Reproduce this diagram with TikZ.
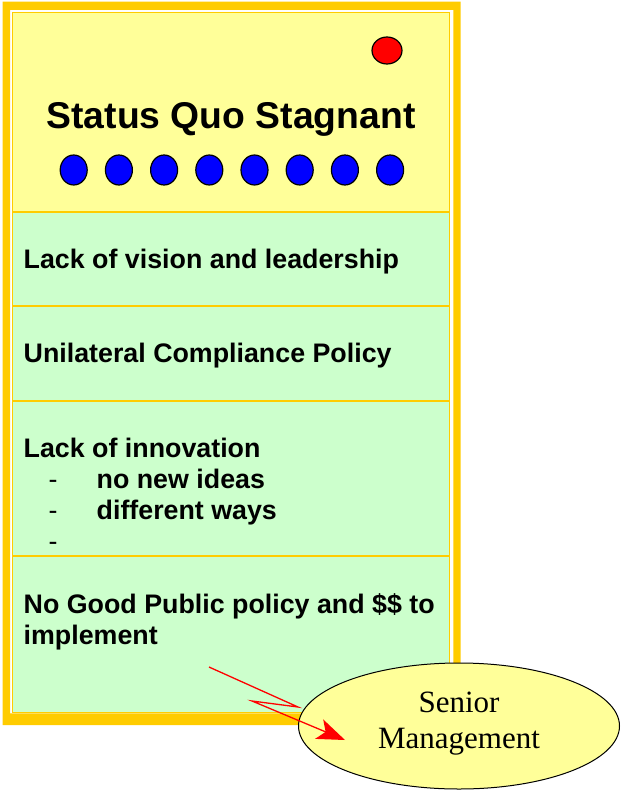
\documentclass[tikz,border=0pt]{standalone}
\usepackage{fontspec}
\setmainfont{Liberation Serif}
\newfontfamily\arialfont{Liberation Sans}
\usetikzlibrary{arrows.meta,shapes.geometric}

\definecolor{gold}{HTML}{FFCC00}
\definecolor{paleyellow}{HTML}{FFFF99}
\definecolor{palegreen}{HTML}{CCFFCC}

\tikzset{
  panel/.style={
    draw=gold, line width=1.5pt, anchor=north west,
    minimum width=437pt, inner sep=0pt, outer sep=0pt,
  },
  panel text/.style={
    anchor=north west, inner sep=0pt, align=left,
    font=\arialfont\bfseries\fontsize{26.8}{31}\selectfont,
  },
  dot/.style={
    ellipse, draw=black, line width=1.2pt,
    minimum width=27pt, minimum height=30pt, inner sep=0pt,
  },
}

\begin{document}
\begin{tikzpicture}[x=1pt, y=-1pt]
  \useasboundingbox[fill=white] (0,0) rectangle (622,791);

  % double frame
  \fill[gold, even odd rule]
    (2.5,1.7) rectangle (460.7,725)
    (10,10) rectangle (453.3,713.3);

  \node[panel, fill=paleyellow, minimum height=199.5pt] (title) at (12.5,12.5) {};
  \node[panel, fill=palegreen, minimum height=94pt] (vision) at (title.south west) {};
  \node[panel, fill=palegreen, minimum height=95pt] (compliance) at (vision.south west) {};
  \node[panel, fill=palegreen, minimum height=155pt] (innovation) at (compliance.south west) {};
  \node[panel, fill=palegreen, minimum height=156.5pt] (policy) at (innovation.south west) {};

  \path (title.north) ++(0,116.5) node[
    anchor=base, inner sep=0pt,
    font=\arialfont\bfseries\fontsize{37.3}{40}\selectfont,
  ] (head) {Status Quo Stagnant};

  \node[dot, fill=red, minimum width=30pt, minimum height=27pt] (alarm) at (387,50.5) {};
  \foreach \i in {0,...,7}
    \node[dot, fill=blue] (d\i) at ({73.7+45.2*\i},170) {};

  \path[every node/.style={panel text}]
    (vision.north west) ++(11,37) node (t1) {Lack of vision and leadership}
    (compliance.north west) ++(11,37) node (t2) {Unilateral Compliance Policy}
    (innovation.north west) ++(11,37) node (t3) {Lack of innovation\\
      \hspace*{25pt}\makebox[48pt][l]{\mdseries -}no new ideas\\
      \hspace*{25pt}\makebox[48pt][l]{\mdseries -}different ways\\
      \hspace*{25pt}\makebox[48pt][l]{\mdseries -}}
    (policy.north west) ++(11,37) node (t4) {No Good Public policy and \$\$ to\\implement}
  ;

  \node[
    ellipse, draw=black, line width=1pt, fill=paleyellow,
    minimum width=321pt, minimum height=126pt,
  ] (senior) at (459,726) {};
  \node[align=center, font=\fontsize{31}{36}\selectfont] (seniortext)
    at ([yshift=2.5pt]senior.center) {Senior\\Management};

  \coordinate (tail) at (209,667);
  \coordinate (kink) at (252,701);
  \coordinate (tip) at (345,740);
  \draw[red, line width=1.3pt, -{Stealth[length=28pt,width=21pt,inset=7pt]}]
    (tail) -- (senior.west |- 0,707) -- (kink) -- (tip);
\end{tikzpicture}
\end{document}
